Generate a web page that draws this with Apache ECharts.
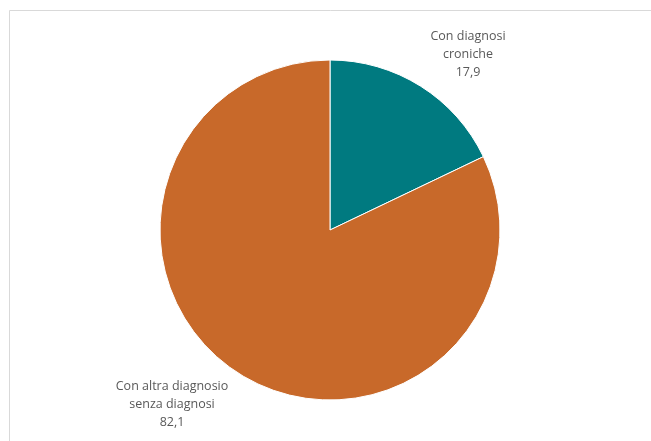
<!DOCTYPE html>
<html><head><meta charset="utf-8">
<script src="https://cdn.jsdelivr.net/npm/echarts@6/dist/echarts.min.js"></script>
<style>html,body{margin:0;padding:0;background:#fff}#c{width:651px;height:441px}</style>
</head><body><div id="c"></div>
<script>
const categories = ["Con diagnosi\ncroniche", "Con altra diagnosio\nsenza diagnosi"];
const values = [17.9, 82.1];
const colors = ["#007A80", "#C8692A"];
const labelPos = [[468, 54], [172, 404]];

const chart = echarts.init(document.getElementById('c'), null, {renderer: 'canvas'});
chart.setOption({
  animation: false,
  backgroundColor: '#ffffff',
  graphic: [{
    type: 'rect', shape: {x: 9.5, y: 10.5, width: 800, height: 600},
    style: {fill: 'none', stroke: '#d9d9d9', lineWidth: 1}, silent: true
  }],
  series: [{
    type: 'pie',
    center: [330, 230],
    radius: 170,
    startAngle: 90,
    clockwise: true,
    data: categories.map((n, i) => ({name: n, value: values[i], itemStyle: {color: colors[i]}})),
    itemStyle: {borderColor: '#ffffff', borderWidth: 1},
    label: {
      show: true,
      position: 'outside',
      formatter: p => p.name + '\n' + p.value.toFixed(1).replace('.', ','),
      color: '#595959',
      fontFamily: 'Open Sans',
      fontSize: 12.5,
      lineHeight: 18,
      align: 'center'
    },
    labelLine: {show: false},
    labelLayout: p => ({x: labelPos[p.dataIndex][0], y: labelPos[p.dataIndex][1], align: 'center', verticalAlign: 'middle'})
  }]
});
</script></body></html>
